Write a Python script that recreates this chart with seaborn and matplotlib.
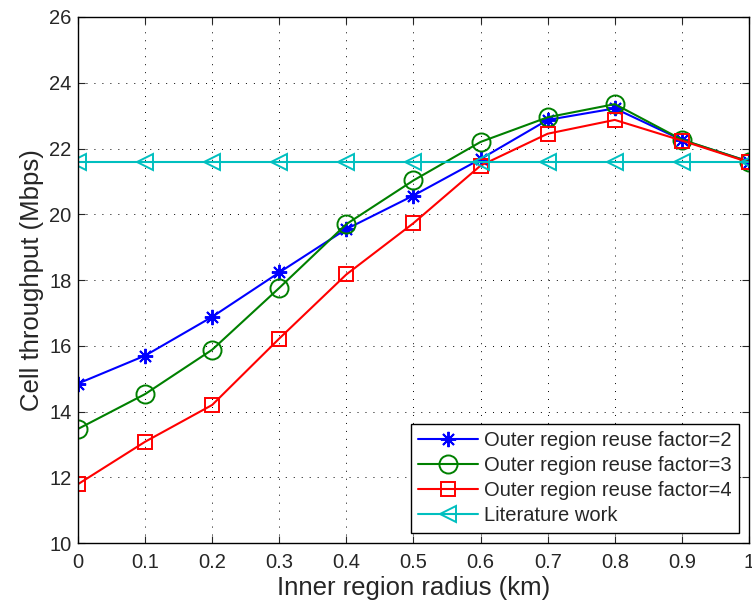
import numpy as np
import pandas as pd
import matplotlib
matplotlib.use("Agg")
import matplotlib.pyplot as plt
import seaborn as sns

# ==========================
# Data
# ==========================

radius = [0.0, 0.1, 0.2, 0.3, 0.4, 0.5, 0.6, 0.7, 0.8, 0.9, 1.0]

reuse2 = [14.85, 15.70, 16.88, 18.23, 19.55, 20.57, 21.68, 22.87, 23.22, 22.26, 21.60]
reuse3 = [13.47, 14.53, 15.88, 17.76, 19.70, 21.03, 22.20, 22.95, 23.35, 22.27, 21.60]
reuse4 = [11.79, 13.08, 14.20, 16.22, 18.17, 19.73, 21.48, 22.45, 22.87, 22.24, 21.58]
literature = [21.60] * 11

labels = [
    "Outer region reuse factor=2",
    "Outer region reuse factor=3",
    "Outer region reuse factor=4",
    "Literature work",
]

xticks = [0, 0.1, 0.2, 0.3, 0.4, 0.5, 0.6, 0.7, 0.8, 0.9, 1]
xticklabels = ["0", "0.1", "0.2", "0.3", "0.4", "0.5", "0.6", "0.7", "0.8", "0.9", "1"]
yticks = [10, 12, 14, 16, 18, 20, 22, 24, 26]

# ==========================
# Style
# ==========================

sns.set_style("ticks")
plt.rcParams["font.family"] = ["Liberation Sans", "DejaVu Sans"]
plt.rcParams["xtick.direction"] = "in"
plt.rcParams["ytick.direction"] = "in"

series = [reuse2, reuse3, reuse4, literature]
colors = ["#0000ff", "#008000", "#ff0000", "#00bfbf"]
markers = [(8, 2, 0), "o", "s", "<"]
msizes = [11, 13, 10, 12]

# ==========================
# Plot
# ==========================

fig = plt.figure(figsize=(7.52, 6.07), dpi=100)
ax = fig.add_axes([0.1037, 0.1054, 0.8923, 0.8666])

for vals, col, mk, ms, lab in zip(series, colors, markers, msizes, labels):
    sns.lineplot(
        x=radius,
        y=vals,
        ax=ax,
        color=col,
        marker=mk,
        markersize=ms,
        markerfacecolor="none",
        markeredgecolor=col,
        markeredgewidth=1.4,
        linewidth=1.5,
        label=lab,
    )

ax.set_xlim(0, 1)
ax.set_ylim(10, 26)
ax.set_xticks(xticks)
ax.set_xticklabels(xticklabels)
ax.set_yticks(yticks)
ax.tick_params(labelsize=14.5, top=True, right=True, length=5, width=0.8)
ax.tick_params(axis="x", pad=7)
ax.tick_params(axis="y", pad=4.5)

ax.grid(True, linestyle=(0, (1, 7.2)), color="black", linewidth=0.7)
for sp in ax.spines.values():
    sp.set_linewidth(1.0)
    sp.set_color("black")
    sp.set_visible(True)

ax.set_xlabel("Inner region radius (km)", fontsize=18.5, labelpad=3)
ax.set_ylabel("Cell throughput (Mbps)", fontsize=18.5, labelpad=4)

leg = ax.legend(
    loc="lower right",
    bbox_to_anchor=(0.985, 0.02),
    borderaxespad=0,
    fontsize=14.5,
    handlelength=3.0,
    handletextpad=0.3,
    labelspacing=0.3,
    borderpad=0.35,
    fancybox=False,
    framealpha=1,
    edgecolor="black",
)
leg.get_frame().set_linewidth(1.0)

plt.savefig("out.png", dpi=100)
